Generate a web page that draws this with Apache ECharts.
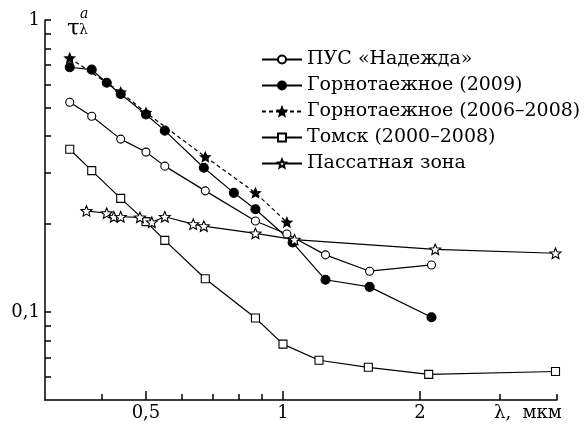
<!DOCTYPE html>
<html>
<head>
<meta charset="utf-8">
<script src="https://cdn.jsdelivr.net/npm/echarts@6/dist/echarts.min.js"></script>
<style>
  html, body { margin: 0; padding: 0; background: #fff; }
  #chart { width: 588px; height: 428px; }
</style>
</head>
<body>
<div id="chart"></div>
<script>
// значения (λ в мкм, τ — АОТ)
var pusX = [0.34, 0.38, 0.44, 0.5, 0.55, 0.675, 0.87, 1.02, 1.24, 1.55, 2.12];
var pusY = [0.523, 0.468, 0.391, 0.353, 0.316, 0.26, 0.205, 0.185, 0.157, 0.138, 0.145];

var gorn09X = [0.34, 0.38, 0.41, 0.44, 0.5, 0.55, 0.67, 0.78, 0.87, 1.05, 1.24, 1.55, 2.12];
var gorn09Y = [0.689, 0.676, 0.61, 0.558, 0.475, 0.418, 0.312, 0.256, 0.225, 0.173, 0.129, 0.122, 0.096];

var gorn0608X = [0.34, 0.44, 0.5, 0.675, 0.87, 1.02];
var gorn0608Y = [0.741, 0.566, 0.482, 0.34, 0.256, 0.203];

var tomskX = [0.34, 0.38, 0.44, 0.5, 0.55, 0.675, 0.87, 1.0, 1.2, 1.54, 2.09, 3.97];
var tomskY = [0.361, 0.305, 0.245, 0.204, 0.176, 0.13, 0.0954, 0.0777, 0.0684, 0.0647, 0.0612, 0.0626];

var passX = [0.37, 0.41, 0.425, 0.44, 0.485, 0.515, 0.55, 0.635, 0.67, 0.87, 1.06, 2.16, 3.97];
var passY = [0.222, 0.218, 0.212, 0.212, 0.211, 0.203, 0.212, 0.2, 0.197, 0.186, 0.177, 0.164, 0.159];

var seriesNames = ['ПУС «Надежда»', 'Горнотаежное (2009)', 'Горнотаежное (2006–2008)', 'Томск (2000–2008)', 'Пассатная зона'];

var xTicks = [0.4, 0.5, 0.6, 0.7, 0.8, 0.9, 1, 2, 3, 4];
var xLabels = [0.5, 1, 2];
var yTicks = [0.06, 0.07, 0.08, 0.09, 0.1, 0.2, 0.3, 0.4, 0.5, 0.6, 0.7, 0.8, 0.9, 1];
var yLabels = [0.1, 1];
var xMin = 0.3, xMax = 4, yMin = 0.05, yMax = 1;

var lg = Math.log10;
function pairs(xs, ys) {
    return xs.map(function (x, i) { return [lg(x), lg(ys[i])]; });
}
function fmt(v) {
    var n = Math.pow(10, v);
    n = Math.round(n * 1000) / 1000;
    return String(n).replace('.', ',');
}

var STAR = 'path://M0,-100 L26.4,-36.4 L95.1,-30.9 L42.8,13.9 L58.8,80.9 L0,45 L-58.8,80.9 L-42.8,13.9 L-95.1,-30.9 L-26.4,-36.4 Z';
var serif = 'DejaVu Serif';

var myChart = echarts.init(document.getElementById('chart'));

function line(name, xs, ys, symbol, size, fill, dashed) {
    return {
        name: name,
        type: 'line',
        data: pairs(xs, ys),
        symbol: symbol,
        symbolSize: size,
        symbolKeepAspect: true,
        showAllSymbol: true,
        lineStyle: { color: '#000', width: 1.2, type: dashed ? [4, 3] : 'solid' },
        itemStyle: { color: fill, borderColor: '#000', borderWidth: 1.1 }
    };
}

myChart.setOption({
    animation: false,
    grid: { left: 45, right: 31, top: 20, bottom: 28 },
    legend: {
        orient: 'vertical',
        left: 256,
        top: 45,
        itemWidth: 40,
        itemHeight: 10,
        itemGap: 7,
        selectedMode: false,
        data: seriesNames,
        textStyle: { fontFamily: serif, fontSize: 19, color: '#000', lineHeight: 19 }
    },
    xAxis: [
        {
            type: 'value', min: lg(xMin), max: lg(xMax), z: 10, splitLine: { show: false },
            axisLine: { onZero: false, lineStyle: { color: '#000', width: 1.5 } },
            axisTick: { show: true, inside: true, length: 6, lineStyle: { color: '#000', width: 1.5 }, customValues: xTicks.map(lg) },
            axisLabel: { show: false }
        },
        {
            type: 'value', position: 'bottom', min: lg(xMin), max: lg(xMax), z: 10, splitLine: { show: false },
            axisLine: { show: false, onZero: false },
            axisTick: { show: true, inside: true, length: 9, lineStyle: { color: '#000', width: 1.5 }, customValues: xLabels.map(lg) },
            axisLabel: { show: true, margin: 4, color: '#000', fontFamily: serif, fontSize: 18, customValues: xLabels.map(lg), formatter: fmt }
        }
    ],
    yAxis: [
        {
            type: 'value', min: lg(yMin), max: lg(yMax), z: 10, splitLine: { show: false },
            axisLine: { show: true, onZero: false, lineStyle: { color: '#000', width: 1.5 } },
            axisTick: { show: true, inside: true, length: 6, lineStyle: { color: '#000', width: 1.5 }, customValues: yTicks.map(lg) },
            axisLabel: { show: true, margin: 5, color: '#000', fontFamily: serif, fontSize: 18, customValues: yLabels.map(lg), formatter: fmt }
        }
    ],
    series: [
        line(seriesNames[0], pusX, pusY, 'circle', 8, '#fff', false),
        line(seriesNames[1], gorn09X, gorn09Y, 'circle', 9, '#000', false),
        line(seriesNames[2], gorn0608X, gorn0608Y, STAR, 10, '#000', true),
        line(seriesNames[3], tomskX, tomskY, 'rect', 8, '#fff', false),
        line(seriesNames[4], passX, passY, STAR, 11, '#fff', false)
    ],
    graphic: [
        { type: 'text', left: 67, top: 18, style: { text: 'τ', font: '23px "DejaVu Serif"', fill: '#000' } },
        { type: 'text', left: 80, top: 7, style: { text: 'a', font: 'italic 14px "DejaVu Serif"', fill: '#000' } },
        { type: 'text', left: 79, top: 23, style: { text: 'λ', font: '14px "DejaVu Serif"', fill: '#000' } },
        { type: 'text', left: 494, top: 404, style: { text: 'λ,  мкм', font: '18px "DejaVu Serif"', fill: '#000' } }
    ]
});
</script>
</body>
</html>
